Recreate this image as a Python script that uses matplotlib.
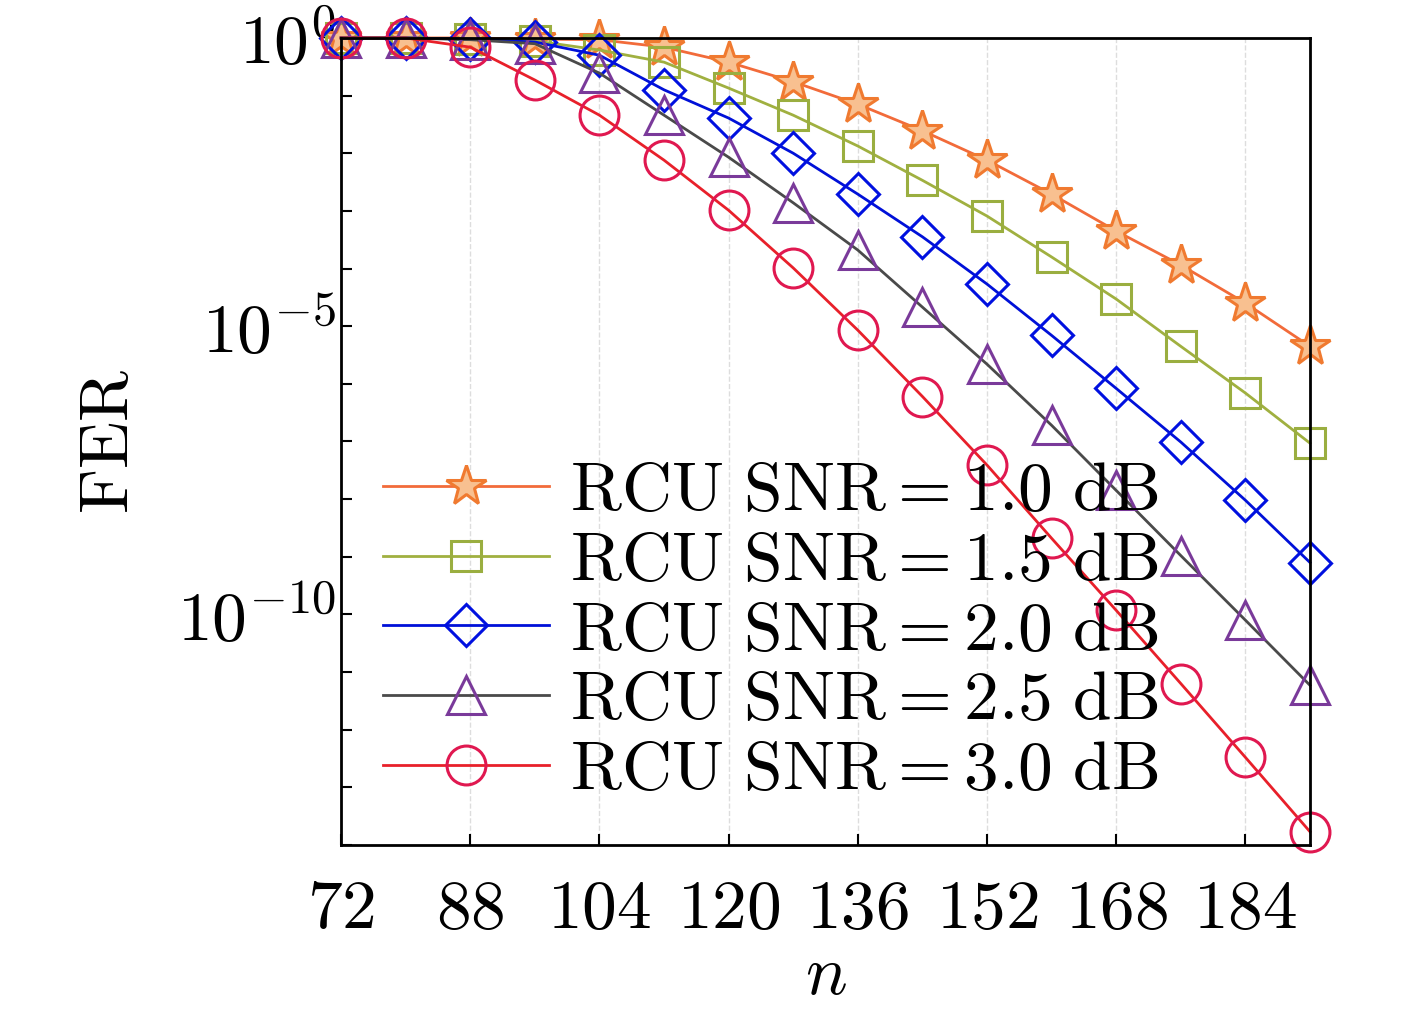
import numpy as np
import matplotlib
matplotlib.use("Agg")
import matplotlib.pyplot as plt

plt.rcParams['mathtext.fontset'] = 'cm'
plt.rcParams['font.family'] = ['DejaVu Serif']

n = [72, 80, 88, 96, 104, 112, 120, 128, 136, 144, 152, 160, 168, 176, 184, 192]
log_fer_10 = [0, 0, 0, -0.02, -0.03, -0.16, -0.42, -0.76, -1.15, -1.61, -2.12, -2.71, -3.35, -3.94, -4.6, -5.35]
log_fer_15 = [0, 0, -0.02, -0.05, -0.21, -0.42, -0.87, -1.34, -1.875, -2.47, -3.09, -3.8, -4.53, -5.35, -6.16, -7.03]
log_fer_20 = [0, 0, -0.02, -0.07, -0.3, -0.9, -1.39, -2.0, -2.71, -3.45, -4.27, -5.16, -6.08, -7.01, -8.02, -9.1]
log_fer_25 = [0, 0, -0.03, -0.1, -0.61, -1.34, -2.07, -2.86, -3.68, -4.67, -5.66, -6.72, -7.85, -8.98, -10.1, -11.23]
log_fer_30 = [0, 0, -0.16, -0.73, -1.34, -2.12, -2.99, -3.99, -5.07, -6.22, -7.41, -8.68, -9.93, -11.2, -12.48, -13.77]
labels = ["RCU SNR=1.0 dB", "RCU SNR=1.5 dB", "RCU SNR=2.0 dB", "RCU SNR=2.5 dB", "RCU SNR=3.0 dB"]
xticks = [72, 88, 104, 120, 136, 152, 168, 184]

def cm(s):
    return r'$\mathrm{' + s.replace(' ', r'\ ').replace('=', '{=}') + '}$'

series = [log_fer_10, log_fer_15, log_fer_20, log_fer_25, log_fer_30]
styles = [
    dict(color='#f26b3a', marker='*', mec='#f07a30', mfc='#f8c090', ms=30),
    dict(color='#a0b040', marker='s', mec='#9aae40', mfc='none', ms=21),
    dict(color='#0010d8', marker='D', mec='#0010e0', mfc='none', ms=21),
    dict(color='#4a4a4a', marker='^', mec='#7a3a9a', mfc='none', ms=28),
    dict(color='#e8202a', marker='o', mec='#e01850', mfc='none', ms=28),
]

fig = plt.figure(figsize=(14.17, 10.23), dpi=100)
ax = fig.add_axes([0.2407, 0.174, 0.6838, 0.7889])
for s, lab, st in zip(series, labels, styles):
    ax.semilogy(n, 10.0 ** np.array(s), lw=2, mew=2.2, label=cm(lab), clip_on=False, **st)

ax.set_xlim(72, 192)
ax.set_ylim(1e-14, 1)
ax.set_xticks(xticks)
ax.set_xticklabels([cm(str(x)) for x in xticks], fontsize=50)
dec = list(range(-14, 1))
ax.set_yticks([10.0 ** d for d in dec])
ax.set_yticklabels([r'$10^{%d}$' % d if d in (0, -5, -10) else '' for d in dec], fontsize=50)
ax.minorticks_off()
ax.tick_params(axis='x', pad=22)
ax.tick_params(direction='in', length=8, width=1.5)
ax.grid(axis='x', color='#dddddd', ls='--', lw=1)
for sp in ax.spines.values():
    sp.set_linewidth(2)
ax.set_xlabel(r'$n$', fontsize=50, labelpad=0)
ax.set_ylabel(cm('FER'), fontsize=50, labelpad=25)
leg = ax.legend(loc='lower left', bbox_to_anchor=(0.0, 0.0), fontsize=50, frameon=False,
                handlelength=2.4, labelspacing=0.05, borderaxespad=0.2, handletextpad=0.3)
fig.savefig('out.png', dpi=100)
